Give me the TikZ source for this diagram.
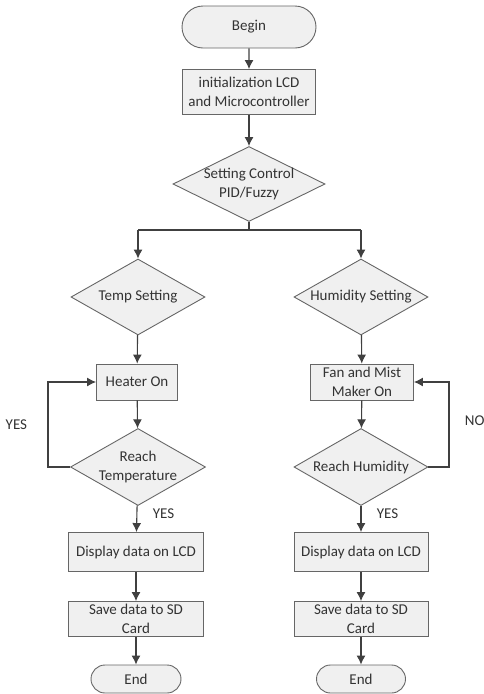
\documentclass[tikz,border=0pt]{standalone}
\usepackage{fontspec}
\setmainfont{Carlito}
\usetikzlibrary{shapes.geometric,shapes.misc,arrows.meta}

\begin{document}
\begin{tikzpicture}[x=1pt, y=-1pt,
    every node/.style={text=black!80, font=\fontsize{15}{19}\selectfont},
    base/.style={draw=black!60, fill=black!6, line width=0.9pt, align=center, inner sep=1pt},
    process/.style={base, rectangle},
    decision/.style={base, diamond, aspect=1.8, inner sep=-6pt},
    terminal/.style={base, rounded rectangle},
    flow/.style={draw=black!75, line width=1.1pt},
    arrow/.style={flow, -{Latex[length=9pt,width=9pt]}}]
    \useasboundingbox (0,0) rectangle (483,694);

    \node[terminal, minimum width=136pt, minimum height=42pt] (begin) at (249, 27) {Begin};
    \node[process, minimum width=133pt, minimum height=45pt] (init) at (249, 92) {initialization LCD\\and Microcontroller};
    \node[decision, minimum width=152pt, minimum height=75pt] (setctl) at (249, 184) {Setting Control\\PID/Fuzzy};
    \coordinate (split) at (249, 230);
    \coordinate (lsplit) at (138, 230);
    \coordinate (rsplit) at (361, 230);

    % temperature branch
    \node[decision, minimum width=134pt, minimum height=76pt] (temp) at (138, 297) {Temp Setting};
    \node[process, minimum width=81pt, minimum height=36pt] (heater) at (137, 382) {Heater On};
    \node[decision, minimum width=135pt, minimum height=77pt] (reacht) at (138, 467) {Reach\\Temperature};
    \coordinate (tloop) at (48, 467);
    \node[process, minimum width=135pt, minimum height=39pt] (dispt) at (136, 552) {Display data on LCD};
    \node[process, minimum width=135pt, minimum height=35pt] (savet) at (136, 619) {Save data to SD\\Card};
    \node[terminal, minimum width=92pt, minimum height=28pt] (endt) at (136, 679) {End};

    % humidity branch
    \node[decision, minimum width=134pt, minimum height=76pt] (hum) at (361, 297) {Humidity Setting};
    \node[process, minimum width=103pt, minimum height=36pt] (fan) at (362, 382) {Fan and Mist\\Maker On};
    \node[decision, minimum width=134pt, minimum height=77pt] (reachh) at (361, 467) {Reach Humidity};
    \coordinate (hloop) at (449, 467);
    \node[process, minimum width=134pt, minimum height=39pt] (disph) at (361, 552) {Display data on LCD};
    \node[process, minimum width=134pt, minimum height=35pt] (saveh) at (361, 619) {Save data to SD\\Card};
    \node[terminal, minimum width=91pt, minimum height=28pt] (endh) at (361, 679) {End};

    \draw[arrow] (begin) -- (init);
    \draw[arrow] (init) -- (setctl);
    \draw[flow] (setctl) -- (split);
    \draw[flow] (lsplit) -- (rsplit);
    \draw[arrow] (lsplit) -- (temp);
    \draw[arrow] (rsplit) -- (hum);

    \draw[arrow] (temp) -- (heater);
    \draw[arrow] (heater) -- (reacht);
    \draw[arrow] (reacht) -- (tloop) |- node[pos=0.25, left=17pt]{YES} (heater);
    \draw[arrow] (reacht) -- node[pos=0.3, right=12pt]{YES} (dispt);
    \draw[arrow] (dispt) -- (savet);
    \draw[arrow] (savet) -- (endt);

    \draw[arrow] (hum) -- (fan);
    \draw[arrow] (fan) -- (reachh);
    \draw[arrow] (reachh) -- (hloop) |- node[pos=0.27, right=12pt]{NO} (fan);
    \draw[arrow] (reachh) -- node[pos=0.3, right=12pt]{YES} (disph);
    \draw[arrow] (disph) -- (saveh);
    \draw[arrow] (saveh) -- (endh);
\end{tikzpicture}
\end{document}
